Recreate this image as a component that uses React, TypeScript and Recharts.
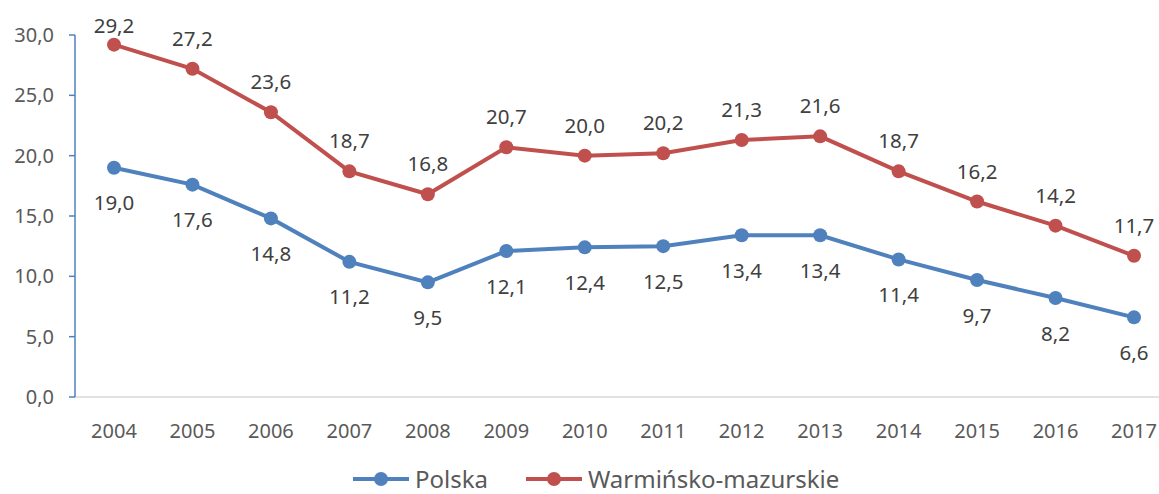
import { LineChart, Line, XAxis, YAxis, Legend, LabelList } from 'recharts';

const years = ['2004', '2005', '2006', '2007', '2008', '2009', '2010', '2011', '2012', '2013', '2014', '2015', '2016', '2017'];
const polska = [19.0, 17.6, 14.8, 11.2, 9.5, 12.1, 12.4, 12.5, 13.4, 13.4, 11.4, 9.7, 8.2, 6.6];
const warminsko = [29.2, 27.2, 23.6, 18.7, 16.8, 20.7, 20.0, 20.2, 21.3, 21.6, 18.7, 16.2, 14.2, 11.7];
const yTicks = [0, 5, 10, 15, 20, 25, 30];

const BLUE = '#4F81BD';
const RED = '#C0504D';
const FONT = '"Noto Sans", sans-serif';

const data = years.map((year, i) => ({ year, polska: polska[i], warminsko: warminsko[i] }));

const fmt = (v: number) => v.toFixed(1).replace('.', ',');

// labels above the red line; kept inside the chart area like Excel does
const TopLabel = (props: any) => {
    const { x, y, value } = props;
    const baseline = Math.max(y - 23, 33);
    return (
        <text x={x} y={baseline} textAnchor="middle" fill="#404040" fontSize={20.5} fontFamily={FONT}>
            {fmt(Number(value))}
        </text>
    );
};

const LegendContent = () => {
    const items = [
        { name: 'Polska', color: BLUE },
        { name: 'Warmińsko-mazurskie', color: RED },
    ];
    return (
        <div style={{ display: 'flex', alignItems: 'flex-end', height: 33, paddingLeft: 353 }}>
            <div style={{ display: 'flex', alignItems: 'center', gap: 38, height: 30 }}>
                {items.map((item) => (
                    <div key={item.name} style={{ display: 'flex', alignItems: 'center' }}>
                        <svg width={56} height={16} style={{ marginRight: 6 }}>
                            <line x1={0} y1={8} x2={56} y2={8} stroke={item.color} strokeWidth={4} />
                            <circle cx={28} cy={8} r={7} fill={item.color} />
                        </svg>
                        <span style={{ fontFamily: FONT, fontSize: 24, lineHeight: '30px', color: '#595959' }}>{item.name}</span>
                    </div>
                ))}
            </div>
        </div>
    );
};

const App = () => {
    return (
        <div style={{ position: 'absolute', left: 0, top: 0, width: 1159, height: 494, background: '#fff' }}>
            <LineChart width={1159} height={494} data={data} margin={{ top: 35, right: 0, bottom: 0, left: 0 }}>
                <XAxis
                    dataKey="year"
                    height={64}
                    padding={{ left: 39, right: 25 }}
                    axisLine={{ stroke: '#D9D9D9', strokeWidth: 1.5 }}
                    tickLine={false}
                    tickMargin={21}
                    tick={{ fill: '#595959', fontSize: 20, fontFamily: FONT }}
                />
                <YAxis
                    width={75}
                    domain={[0, 30]}
                    ticks={yTicks}
                    tickFormatter={fmt}
                    axisLine={{ stroke: BLUE, strokeWidth: 1.5 }}
                    tickLine={{ stroke: BLUE, strokeWidth: 1.5 }}
                    tickSize={6}
                    tickMargin={15}
                    tick={{ fill: '#595959', fontSize: 20, fontFamily: FONT }}
                />
                <Legend verticalAlign="bottom" height={33} content={<LegendContent />} />
                <Line
                    dataKey="polska"
                    name="Polska"
                    stroke={BLUE}
                    strokeWidth={4}
                    dot={{ r: 7, fill: BLUE, stroke: BLUE, strokeWidth: 0 }}
                    isAnimationActive={false}
                >
                    <LabelList dataKey="polska" position="bottom" offset={28} formatter={(v: any) => fmt(Number(v))} style={{ fill: '#404040', fontSize: 20.5, fontFamily: FONT }} />
                </Line>
                <Line
                    dataKey="warminsko"
                    name="Warmińsko-mazurskie"
                    stroke={RED}
                    strokeWidth={4}
                    dot={{ r: 7, fill: RED, stroke: RED, strokeWidth: 0 }}
                    isAnimationActive={false}
                >
                    <LabelList dataKey="warminsko" content={<TopLabel />} />
                </Line>
            </LineChart>
        </div>
    );
};

export default App;
